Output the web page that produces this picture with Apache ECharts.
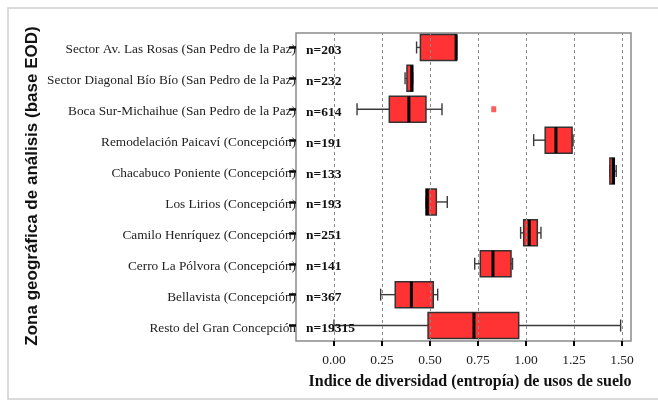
<!DOCTYPE html>
<html>
<head>
<meta charset="utf-8">
<script src="https://cdn.jsdelivr.net/npm/echarts@6/dist/echarts.min.js"></script>
<style>html,body{margin:0;padding:0;background:#fff}#c{width:658px;height:401px}</style>
</head>
<body>
<div id="c"></div>
<script>
const categories = [
  "Sector Av. Las Rosas (San Pedro de la Paz)",
  "Sector Diagonal Bío Bío (San Pedro de la Paz)",
  "Boca Sur-Michaihue (San Pedro de la Paz)",
  "Remodelación Paicaví (Concepción)",
  "Chacabuco Poniente (Concepción)",
  "Los Lirios (Concepción)",
  "Camilo Henríquez (Concepción)",
  "Cerro La Pólvora (Concepción)",
  "Bellavista (Concepción)",
  "Resto del Gran Concepción"
];
const nLabels = ["n=203","n=232","n=614","n=191","n=133","n=193","n=251","n=141","n=367","n=19315"];
const mins    = [0.43, 0.37, 0.12, 1.04, 1.437, 0.479, 0.972, 0.733, 0.243, 0.00];
const q1s     = [0.45, 0.38, 0.288, 1.10, 1.437, 0.479, 0.988, 0.762, 0.319, 0.49];
const medians = [0.636, 0.405, 0.39, 1.156, 1.455, 0.486, 1.017, 0.828, 0.403, 0.729];
const q3s     = [0.638, 0.41, 0.479, 1.24, 1.46, 0.533, 1.059, 0.922, 0.517, 0.962];
const maxs    = [0.638, 0.41, 0.5625, 1.245, 1.47, 0.59, 1.078, 0.93, 0.54, 1.493];
const outliers = [[0.832, 2]];
const tickValues = [0, 0.25, 0.5, 0.75, 1.0, 1.25, 1.5];

const boxData = categories.map((c, i) => [i, mins[i], q1s[i], medians[i], q3s[i], maxs[i], nLabels[i]]);

function renderItem(params, api) {
  const i = api.value(0);
  const pMin = api.coord([api.value(1), i]);
  const pQ1 = api.coord([api.value(2), i]);
  const pMed = api.coord([api.value(3), i]);
  const pQ3 = api.coord([api.value(4), i]);
  const pMax = api.coord([api.value(5), i]);
  const band = api.size([0, 1])[1];
  const h = band * 0.84;
  const cy = pMed[1];
  const cap = 6;
  const wStyle = { stroke: '#3a3a3a', lineWidth: 1.4 };
  return {
    type: 'group',
    children: [
      { type: 'line', shape: { x1: pMin[0], y1: cy, x2: pQ1[0], y2: cy }, style: wStyle },
      { type: 'line', shape: { x1: pQ3[0], y1: cy, x2: pMax[0], y2: cy }, style: wStyle },
      { type: 'line', shape: { x1: pMin[0], y1: cy - cap, x2: pMin[0], y2: cy + cap }, style: wStyle },
      { type: 'line', shape: { x1: pMax[0], y1: cy - cap, x2: pMax[0], y2: cy + cap }, style: wStyle },
      { type: 'rect', shape: { x: pQ1[0], y: cy - h / 2, width: Math.max(pQ3[0] - pQ1[0], 1), height: h },
        style: { fill: '#ff3333', stroke: '#333', lineWidth: 1.5 } },
      { type: 'line', shape: { x1: pMed[0], y1: cy - h / 2, x2: pMed[0], y2: cy + h / 2 },
        style: { stroke: '#000', lineWidth: 3 } },
      { type: 'text', x: params.coordSys.x + 10, y: cy + 3,
        style: { text: api.value(6), fill: '#111', font: 'bold 13.5px "Liberation Serif", serif',
                 textAlign: 'left', textVerticalAlign: 'middle' } }
    ]
  };
}

const chart = echarts.init(document.getElementById('c'), null, { renderer: 'canvas' });
chart.setOption({
  animation: false,
  backgroundColor: '#fff',
  grid: [
    { left: 296, right: 27, top: 32, bottom: 60, show: false },
    { left: 296, right: 27, top: 33, bottom: 60, show: true, borderColor: '#8a8a8a', borderWidth: 1.5, backgroundColor: 'transparent' }
  ],
  xAxis: [
    { type: 'value', gridIndex: 0, min: -0.198, max: 1.547, show: false },
    {
      type: 'value', gridIndex: 1, min: -0.198, max: 1.547,
      axisLine: { show: false },
      splitLine: { show: false },
      axisTick: { show: true, customValues: tickValues, length: 5, lineStyle: { color: '#000', width: 2 } },
      axisLabel: { customValues: tickValues, formatter: v => v.toFixed(2), margin: 12,
        fontFamily: '"Liberation Serif", serif', fontSize: 13.5, color: '#222' }
    }
  ],
  yAxis: [
    {
      type: 'category', gridIndex: 0, data: categories, inverse: true,
      axisLine: { show: false, onZero: false },
      axisTick: { show: true, alignWithLabel: true, length: 7, lineStyle: { color: '#000', width: 2.5 } },
      axisLabel: { margin: 0, formatter: v => '{a|' + v + '}',
        rich: { a: { padding: [5, 0, 0, 0], fontFamily: '"Liberation Serif", serif', fontSize: 13.3, color: '#222' } },
        fontFamily: '"Liberation Serif", serif', fontSize: 13.3, color: '#222' },
      splitLine: { show: false }
    },
    { type: 'value', gridIndex: 1, show: false, min: 0, max: 1, axisLine: { onZero: false } }
  ],
  graphic: [
    { type: 'rect', shape: { x: 8, y: 8, width: 720, height: 391 }, style: { fill: 'none', stroke: '#d0d0d0', lineWidth: 1.5 }, silent: true },
    { type: 'text', x: 32, y: 186, rotation: Math.PI / 2,
      style: { text: 'Zona geográfica de análisis (base EOD)', font: 'bold 17px "Liberation Sans", Arial, sans-serif',
               fill: '#111', textAlign: 'center', textVerticalAlign: 'middle' } },
    { type: 'text', x: 470, y: 382,
      style: { text: 'Indice de diversidad (entropía) de usos de suelo', font: 'bold 16px "Liberation Serif", serif',
               fill: '#111', textAlign: 'center', textVerticalAlign: 'middle' } }
  ],
  series: [
    { type: 'scatter', xAxisIndex: 1, yAxisIndex: 1, data: [], z: 1,
      markLine: { silent: true, symbol: ['none', 'none'], label: { show: false },
        lineStyle: { color: '#8a8a8a', width: 1, type: [3, 3] },
        data: tickValues.map(v => ({ xAxis: v })) } },
    { type: 'custom', xAxisIndex: 0, yAxisIndex: 0, renderItem: renderItem, data: boxData, z: 3,
      encode: { x: [1, 2, 3, 4, 5], y: 0 } },
    { type: 'scatter', xAxisIndex: 0, yAxisIndex: 0, data: outliers, symbol: 'rect', symbolSize: [5, 6], z: 4,
      itemStyle: { color: '#ff3333' } }
  ]
});
</script>
</body>
</html>
